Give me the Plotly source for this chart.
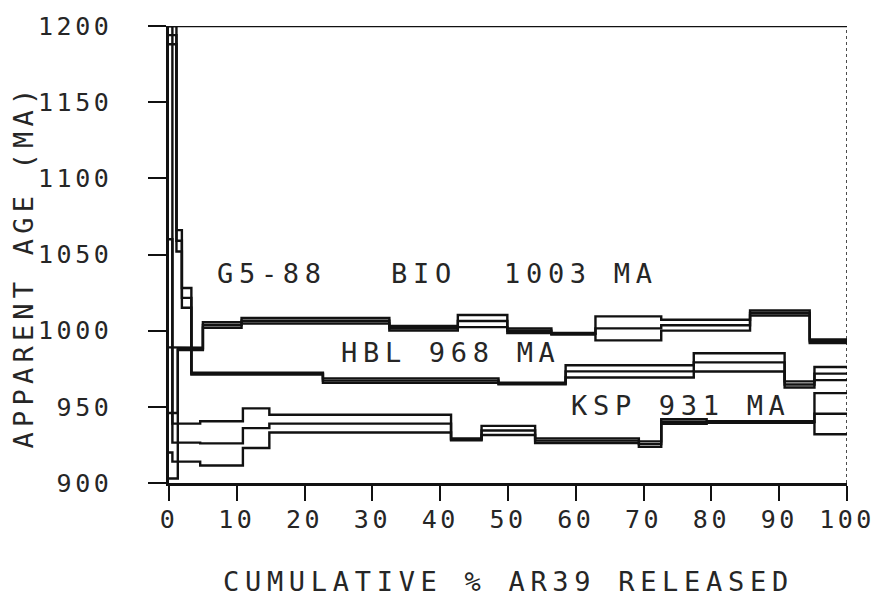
import plotly.graph_objects as go

# ---------------- data ----------------
X_TICKS = [0, 10, 20, 30, 40, 50, 60, 70, 80, 90, 100]
Y_TICKS = [900, 950, 1000, 1050, 1100, 1150, 1200]

# step boundaries (cumulative % 39Ar), apparent ages (Ma) and half-widths (Ma)
BIO_edges = [0, 1.3, 5.0, 10.7, 32.5, 42.6, 49.9, 56.4, 62.9, 72.6, 85.7, 94.5, 100]
BIO_age = [946, 988.0, 1003.7, 1006.5, 1001.6, 1006.3, 999.9, 998.0, 1001.5, 1003.6, 1011.6, 993.1]
BIO_err = [43, 0.8, 1.8, 1.8, 1.5, 4.0, 1.5, 0.5, 7.9, 3.6, 1.6, 1.2]

HBL_edges = [0, 1.1, 1.9, 3.3, 22.7, 48.6, 58.5, 77.4, 90.8, 95.2, 100]
HBL_age = [1194, 1059, 1021.5, 971.8, 967.2, 965.3, 973.3, 979.2, 964.7, 971.8]
HBL_err = [6, 7, 6.5, 0.6, 1.5, 0.5, 4.0, 6.0, 2.0, 4.3]

KSP_edges = [0, 0.5, 4.6, 10.9, 14.8, 41.6, 46.1, 54.0, 69.3, 72.6, 79.3, 95.2, 100]
KSP_age = [1060, 926.5, 926.0, 936.0, 939.0, 928.6, 934.5, 927.8, 925.5, 940.3, 940.0, 945.5]
KSP_err = [140, 12.5, 14.5, 13.0, 5.8, 0.6, 3.0, 1.5, 1.8, 1.5, 0.5, 13.5]

LABELS = [
    ("G5-88", 15.15, 1037.5),
    ("BIO", 37.6, 1037.5),
    ("1003 MA", 60.7, 1037.5),
    ("HBL 968 MA", 41.6, 985.5),
    ("KSP 931 MA", 75.5, 951.0),
]
X_TITLE = "CUMULATIVE % AR39 RELEASED"
Y_TITLE = "APPARENT AGE (MA)"

FONT = "DejaVu Sans Mono"
INK = "#111111"
TXT = "#262626"


def spaced(t, px):
    return "<span style='letter-spacing:%spx'>%s</span>" % (px, t)


def step_xy(edges, vals):
    xs, ys = [], []
    for i, v in enumerate(vals):
        xs += [edges[i], edges[i + 1]]
        ys += [min(v, 1200), min(v, 1200)]
    return xs, ys


fig = go.Figure()

for edges, age, err in [(BIO_edges, BIO_age, BIO_err),
                        (HBL_edges, HBL_age, HBL_err),
                        (KSP_edges, KSP_age, KSP_err)]:
    hi = [a + e for a, e in zip(age, err)]
    lo = [a - e for a, e in zip(age, err)]
    for vals in (hi, age, lo):
        xs, ys = step_xy(edges, vals)
        fig.add_trace(go.Scatter(x=xs, y=ys, mode="lines",
                                 line=dict(color=INK, width=2.4),
                                 hoverinfo="skip", showlegend=False))

for text, x, y in LABELS:
    fig.add_annotation(x=x, y=y, xref="x", yref="y", text=spaced(text, 5.7),
                       showarrow=False, font=dict(family=FONT, size=27, color=TXT),
                       xanchor="center", yanchor="middle")

fig.add_annotation(x=0.5, y=-0.216, xref="paper", yref="paper",
                   text=spaced(X_TITLE, 5.7), showarrow=False,
                   font=dict(family=FONT, size=27, color=TXT),
                   xanchor="center", yanchor="middle")
fig.add_annotation(x=-0.214, y=0.476, xref="paper", yref="paper",
                   text=spaced(Y_TITLE, 5.2), showarrow=False, textangle=-90,
                   font=dict(family=FONT, size=27, color=TXT),
                   xanchor="center", yanchor="middle")

# frame: solid top, dotted right
fig.add_shape(type="line", x0=0, x1=100, y0=1200, y1=1200, xref="x", yref="y",
              line=dict(color=INK, width=2.5))
fig.add_shape(type="line", x0=100, x1=100, y0=900, y1=1200, xref="x", yref="y",
              line=dict(color=INK, width=1.5, dash="dot"))

fig.update_xaxes(range=[0, 100], tickvals=X_TICKS,
                 ticktext=[spaced(str(v), 3.5) for v in X_TICKS],
                 ticks="outside", ticklen=15, tickwidth=2, tickcolor=INK,
                 showline=True, linecolor=INK, linewidth=2.5,
                 showgrid=False, zeroline=False, ticklabelstandoff=-3,
                 tickfont=dict(family=FONT, size=25, color=TXT))
fig.update_yaxes(range=[900, 1200], tickvals=Y_TICKS,
                 ticktext=[spaced(str(v), 3.5) for v in Y_TICKS],
                 ticks="outside", ticklen=18, tickwidth=2, tickcolor=INK,
                 showline=True, linecolor=INK, linewidth=2.5,
                 showgrid=False, zeroline=False, ticklabelstandoff=31,
                 tickfont=dict(family=FONT, size=25, color=TXT))

fig.update_layout(width=887, height=602,
                  margin=dict(l=169, r=38, t=25, b=119),
                  paper_bgcolor="white", plot_bgcolor="white",
                  showlegend=False)

fig.write_html("out.html")
